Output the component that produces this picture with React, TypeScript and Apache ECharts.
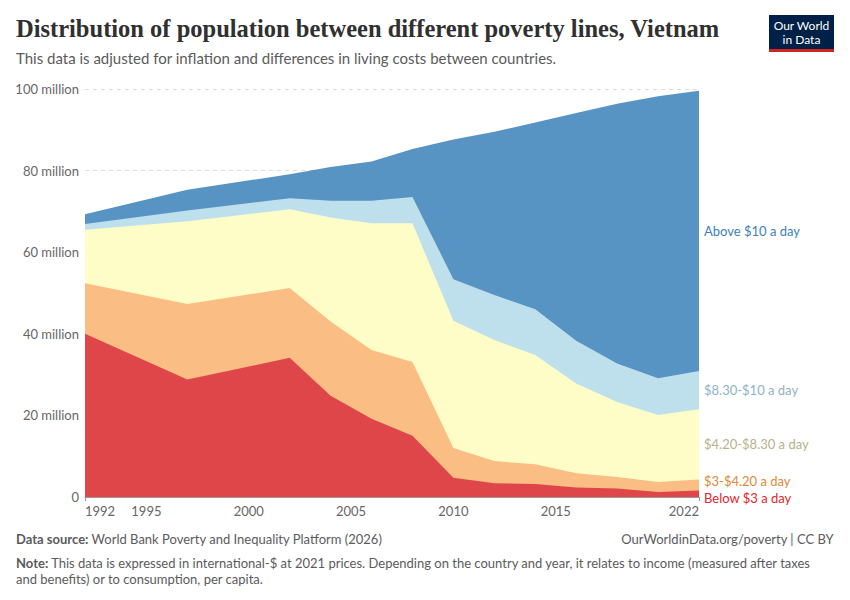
import React, { useEffect, useRef } from 'react';
import * as echarts from 'echarts';

const years = [1992, 1997, 2002, 2004, 2006, 2008, 2010, 2012, 2014, 2016, 2018, 2020, 2022];
// values in millions of people
const below3 = [40.0, 28.8, 34.1, 24.8, 19.2, 15.0, 4.7, 3.4, 3.2, 2.3, 2.1, 1.2, 1.6];
const from3to420 = [12.4, 18.5, 17.1, 18.2, 16.8, 18.1, 7.3, 5.4, 4.8, 3.5, 2.8, 2.5, 2.7];
const from420to830 = [13.1, 20.3, 19.3, 25.5, 31.1, 34.0, 31.2, 29.7, 26.8, 22.0, 18.4, 16.4, 17.2];
const from830to10 = [1.4, 2.6, 2.7, 4.1, 5.5, 6.4, 10.2, 11.0, 11.2, 10.5, 9.4, 9.0, 9.4];
const above10 = [2.4, 5.1, 5.9, 8.3, 9.6, 11.8, 34.2, 40.0, 45.8, 55.8, 63.7, 69.1, 68.7];

const seriesNames = ['Below $3 a day', '$3-$4.20 a day', '$4.20-$8.30 a day', '$8.30-$10 a day', 'Above $10 a day'];
const seriesData = [below3, from3to420, from420to830, from830to10, above10];
const fillColors = ['#de4649', '#fabd83', '#fefdc8', '#bde0ec', '#5793c3'];
const labelColors = ['#e3262a', '#e0883a', '#b5b38a', '#8fb3c6', '#3d7fbb'];

const yTicks = [0, 20, 40, 60, 80, 100];
const xLabelYears = [1992, 1995, 2000, 2005, 2010, 2015, 2022];
const xTickYears = [1992, 2022];

const FONT = 'Lato, "Noto Sans", sans-serif';

export default function App() {
  const ref = useRef<HTMLDivElement>(null);
  useEffect(() => {
    if (!ref.current) return;
    const chart = echarts.init(ref.current, undefined, { renderer: 'svg' });

    // cumulative tops of each band (stacking done here since both axes are value axes)
    const cumulative: number[][] = [];
    seriesData.forEach((arr, i) => {
      cumulative.push(arr.map((v, j) => v + (i > 0 ? cumulative[i - 1][j] : 0)));
    });

    // draw from the top band down, each filling to zero, so lower bands paint over
    const series = seriesNames
      .map((name, i) => ({
        name,
        type: 'line',
        symbol: 'none',
        z: 10 - i,
        lineStyle: { width: 0 },
        areaStyle: { color: fillColors[i], opacity: 1 },
        itemStyle: { color: fillColors[i] },
        data: years.map((y, j) => [y, Math.round(cumulative[i][j] * 100) / 100]),
      }))
      .reverse();

    const baseGraphics: any[] = [
      {
        type: 'text', left: 16, top: 16,
        style: { text: 'Distribution of population between different poverty lines, Vietnam', font: 'bold 24.5px "Liberation Serif", serif', fill: '#303030' },
      },
      {
        type: 'text', left: 16, top: 50,
        style: { text: 'This data is adjusted for inflation and differences in living costs between countries.', font: '15px ' + FONT, fill: '#5b5b5b' },
      },
      { type: 'rect', shape: { x: 769, y: 15, width: 65, height: 35 }, style: { fill: '#002147' } },
      { type: 'rect', shape: { x: 769, y: 49, width: 65, height: 3 }, style: { fill: '#ce261e' } },
      {
        type: 'text', x: 801.5, y: 18,
        style: { text: 'Our World\nin Data', font: '12px ' + FONT, fill: '#ffffff', align: 'center', lineHeight: 14 },
      },
      {
        type: 'text', left: 16, top: 532,
        style: {
          text: '{b|Data source:} World Bank Poverty and Inequality Platform (2026)',
          font: '13px ' + FONT, fill: '#5b5b5b',
          rich: { b: { font: 'bold 13px ' + FONT, fill: '#5b5b5b' } },
        },
      },
      {
        type: 'text', right: 16, top: 532,
        style: { text: 'OurWorldinData.org/poverty | CC BY', font: '13px ' + FONT, fill: '#5b5b5b' },
      },
      {
        type: 'text', left: 16, top: 555,
        style: {
          text: '{b|Note:} This data is expressed in international-$ at 2021 prices. Depending on the country and year, it relates to income (measured after taxes\nand benefits) or to consumption, per capita.',
          font: '13px ' + FONT, fill: '#5b5b5b', lineHeight: 16,
          rich: { b: { font: 'bold 13px ' + FONT, fill: '#5b5b5b' } },
        },
      },
    ];
    chart.setOption({
      animation: false,
      grid: { left: 85, right: 151, top: 89, bottom: 103, containLabel: false },
      xAxis: {
        type: 'value', min: 1992, max: 2022,
        axisLine: { show: true, lineStyle: { color: '#999' } },
        axisTick: { show: true, customValues: xTickYears, length: 4, lineStyle: { color: '#999' } },
        axisLabel: {
          customValues: xLabelYears, color: '#666', fontSize: 13, fontFamily: FONT,
          margin: 7, alignMinLabel: 'left', alignMaxLabel: 'right', formatter: (v: number) => String(v),
        },
        splitLine: { show: false },
      },
      yAxis: {
        type: 'value', min: yTicks[0], max: yTicks[yTicks.length - 1], interval: 20,
        axisLine: { show: false }, axisTick: { show: false },
        axisLabel: {
          color: '#666', fontSize: 13, fontFamily: FONT, margin: 6,
          formatter: (v: number) => (v === 0 ? '0' : v + ' million'),
        },
        splitLine: { show: true, lineStyle: { color: '#dddddd', type: [4, 4] } },
      },
      series,
      graphic: baseGraphics,
    });

    // series labels at the right end, centred on each band, pushed apart if overlapping
    const last = years.length - 1;
    const labels = seriesNames.map((name, i) => {
      const top = cumulative[i][last];
      const bottom = i > 0 ? cumulative[i - 1][last] : 0;
      const p = chart.convertToPixel({ gridIndex: 0 }, [years[last], (top + bottom) / 2]) as number[];
      return { name, color: labelColors[i], y: p[1], x: p[0] };
    });
    const gap = 17;
    for (let iter = 0; iter < 50; iter++) {
      let moved = false;
      for (let i = 0; i < labels.length - 1; i++) {
        const lower = labels[i];
        const upper = labels[i + 1];
        const d = lower.y - upper.y;
        if (d < gap) {
          const shift = (gap - d) / 2;
          lower.y += shift;
          upper.y -= shift;
          moved = true;
        }
      }
      if (!moved) break;
    }
    const labelGraphics = labels.map((l) => ({
      type: 'text', x: l.x + 5, y: l.y,
      style: { text: l.name, font: '13px ' + FONT, fill: l.color, verticalAlign: 'middle' },
    }));
    chart.setOption({ graphic: [...baseGraphics, ...labelGraphics] });

    return () => chart.dispose();
  }, []);
  return <div ref={ref} style={{ width: 850, height: 600, margin: -8 }} />;
}
